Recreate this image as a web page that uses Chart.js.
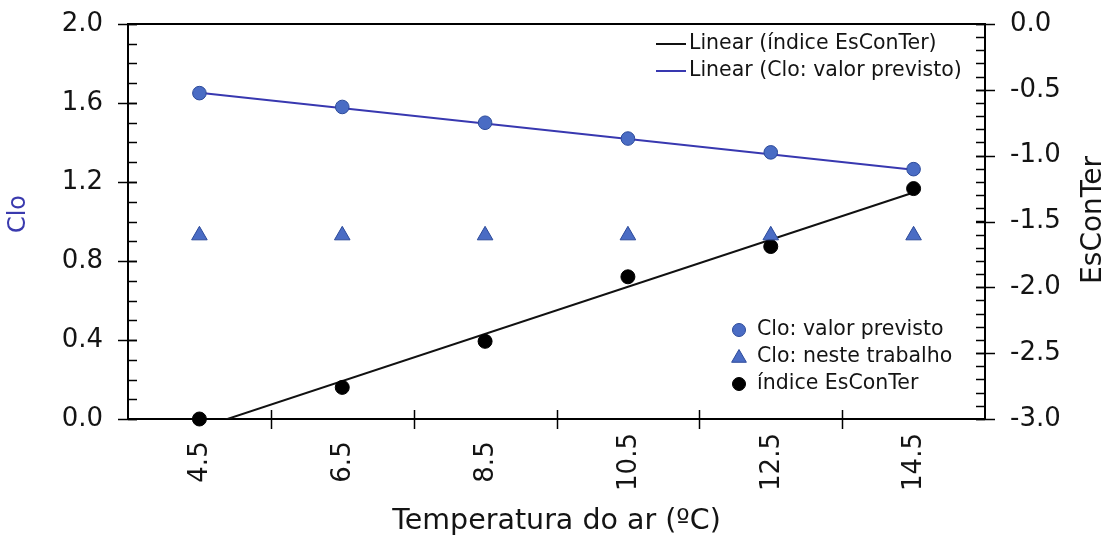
<!DOCTYPE html>
<html><head><meta charset="utf-8">
<script src="https://cdn.jsdelivr.net/npm/chart.js@4.4.1/dist/chart.umd.min.js"></script>
<style>html,body{margin:0;padding:0;background:#fff}#wrap{width:1119px;height:540px;position:relative}</style>
</head><body><div id="wrap"><canvas id="c" width="1119" height="540"></canvas></div>
<script>
// ---- data ----
const categories = ['4.5', '6.5', '8.5', '10.5', '12.5', '14.5'];
const cloPrevisto = [1.65, 1.58, 1.50, 1.42, 1.35, 1.265];
const cloNesteTrabalho = [0.93, 0.93, 0.93, 0.93, 0.93, 0.93];
const esConTer = [-3.0, -2.76, -2.41, -1.92, -1.69, -1.25];
const trendEsConTer = [-3.07, null, null, null, null, -1.28];
const trendClo = [1.652, null, null, null, null, 1.262];
const leftTickValues = [0.0, 0.4, 0.8, 1.2, 1.6, 2.0];
const rightTickValues = [-3.0, -2.5, -2.0, -1.5, -1.0, -0.5, 0.0];
const lineLegendLabels = ['Linear (índice EsConTer)', 'Linear (Clo: valor previsto)'];
const markerLegendLabels = ['Clo: valor previsto', 'Clo: neste trabalho', 'índice EsConTer'];
const xTitle = 'Temperatura do ar (ºC)';
const leftTitle = 'Clo';
const rightTitle = 'EsConTer';

const FONT = '"DejaVu Sans", Verdana, sans-serif';
const TXT = '#141414';
const BLUE_FILL = '#4a6cc4', BLUE_EDGE = '#2c4a9a', BLUE_LINE = '#3838b0', BLUE_TITLE = '#3a3aae';

Chart.defaults.font.family = FONT;
Chart.defaults.color = TXT;

function mark(ctx, style, r, x, y, fill, edge) {
  ctx.save();
  ctx.fillStyle = fill; ctx.strokeStyle = edge; ctx.lineWidth = 1;
  ctx.beginPath();
  if (style === 'triangle') {
    ctx.moveTo(x, y - r);
    ctx.lineTo(x + r * Math.sin(2 * Math.PI / 3), y - r * Math.cos(2 * Math.PI / 3));
    ctx.lineTo(x + r * Math.sin(4 * Math.PI / 3), y - r * Math.cos(4 * Math.PI / 3));
    ctx.closePath();
  } else {
    ctx.arc(x, y, r, 0, Math.PI * 2);
  }
  ctx.fill(); ctx.stroke();
  ctx.restore();
}

function vtext(ctx, text, x, y, font, color) {
  ctx.save();
  ctx.translate(x, y);
  ctx.rotate(-Math.PI / 2);
  ctx.font = font;
  ctx.fillStyle = color;
  ctx.textAlign = 'center'; ctx.textBaseline = 'middle';
  ctx.fillText(text, 0, 0);
  ctx.restore();
}

const framePlugin = {
  id: 'framePlugin',
  afterDraw(chart) {
    const { ctx, chartArea: a, scales } = chart;
    ctx.save();
    ctx.strokeStyle = '#000';
    ctx.lineWidth = 2;
    const ln = (x1, y1, x2, y2) => { ctx.beginPath(); ctx.moveTo(x1, y1); ctx.lineTo(x2, y2); ctx.stroke(); };
    // top frame line
    ln(a.left - 1, a.top, a.right + 1, a.top);
    ctx.lineWidth = 1.5;
    // left axis ticks
    const y = scales.y;
    for (let v = y.min; v <= y.max + 1e-9; v += 0.1) {
      const p = Math.round(y.getPixelForValue(v)) + 0.5;
      ln(a.left, p, a.left + 9, p);
    }
    y.ticks.forEach(t => { const p = Math.round(y.getPixelForValue(t.value)) + 0.5; ln(a.left - 10, p, a.left + 9, p); });
    // right axis ticks
    const y1 = scales.y1;
    for (let v = y1.min; v <= y1.max + 1e-9; v += 0.1) {
      const p = Math.round(y1.getPixelForValue(v)) + 0.5;
      ln(a.right - 9, p, a.right, p);
    }
    y1.ticks.forEach(t => { const p = Math.round(y1.getPixelForValue(t.value)) + 0.5; ln(a.right - 9, p, a.right + 10, p); });
    // x axis ticks between categories, and centred rotated labels
    const x = scales.x;
    for (let i = 0; i < categories.length - 1; i++) {
      const p = Math.round((x.getPixelForValue(i) + x.getPixelForValue(i + 1)) / 2) + 0.5;
      ln(p, a.bottom - 9, p, a.bottom + 10);
    }
    categories.forEach((c, i) => vtext(ctx, c, x.getPixelForValue(i) + 1, a.bottom + 43, '26px ' + FONT, TXT));
    // axis titles
    vtext(ctx, leftTitle, 19, 214, '24px ' + FONT, BLUE_TITLE);
    vtext(ctx, rightTitle, 1094, 220, '28px ' + FONT, TXT);

    // legend 1 (lines)
    ctx.font = '20.5px ' + FONT;
    ctx.textAlign = 'left'; ctx.textBaseline = 'middle';
    ctx.fillStyle = TXT;
    const lineColors = ['#111', BLUE_LINE];
    lineLegendLabels.forEach((lab, i) => {
      const yy = 44 + i * 27;
      ctx.strokeStyle = lineColors[i]; ctx.lineWidth = 2;
      ln(656, yy, 686, yy);
      ctx.fillText(lab, 689, yy);
    });
    // legend 2 (markers)
    const styles = [['circle', 6.5, BLUE_FILL, BLUE_EDGE], ['triangle', 8.5, BLUE_FILL, BLUE_EDGE], ['circle', 6.5, '#000', '#000']];
    markerLegendLabels.forEach((lab, i) => {
      const yy = 330 + i * 27;
      const s = styles[i];
      mark(ctx, s[0], s[1], 739, yy + (s[0] === 'triangle' ? 1 : 0), s[2], s[3]);
      ctx.fillStyle = TXT;
      ctx.fillText(lab, 757, yy);
    });
    ctx.restore();
  }
};

const fitY = w => s => { s.width = w; s.paddingTop = 0; s.paddingBottom = 0; };

new Chart(document.getElementById('c'), {
  type: 'line',
  data: {
    labels: categories,
    datasets: [
      { label: 'Clo: valor previsto', data: cloPrevisto, yAxisID: 'y', showLine: false, pointStyle: 'circle', pointRadius: 6.8, pointBackgroundColor: BLUE_FILL, pointBorderColor: BLUE_EDGE, pointBorderWidth: 1, clip: false, order: 0 },
      { label: 'Clo: neste trabalho', data: cloNesteTrabalho, yAxisID: 'y', showLine: false, pointStyle: 'triangle', pointRadius: 9, pointBackgroundColor: BLUE_FILL, pointBorderColor: BLUE_EDGE, pointBorderWidth: 1, clip: false, order: 0 },
      { label: 'índice EsConTer', data: esConTer, yAxisID: 'y1', showLine: false, pointStyle: 'circle', pointRadius: 7, pointBackgroundColor: '#000', pointBorderColor: '#000', pointBorderWidth: 1, clip: false, order: 0 },
      { label: 'Linear (índice EsConTer)', data: trendEsConTer, yAxisID: 'y1', spanGaps: true, borderColor: '#111', borderWidth: 2, pointRadius: 0, fill: false, order: 1 },
      { label: 'Linear (Clo: valor previsto)', data: trendClo, yAxisID: 'y', spanGaps: true, borderColor: BLUE_LINE, borderWidth: 2, pointRadius: 0, fill: false, order: 1 }
    ]
  },
  options: {
    responsive: false,
    animation: false,
    devicePixelRatio: 1,
    layout: { padding: { top: 24, left: 0, right: 0, bottom: 0 } },
    plugins: { legend: { display: false }, tooltip: { enabled: false } },
    scales: {
      x: {
        type: 'category',
        offset: true,
        grid: { display: false },
        border: { display: true, color: '#000', width: 2 },
        ticks: { display: false },
        title: { display: true, text: xTitle, font: { size: 28.5 }, padding: { top: 0, bottom: 1 }, color: TXT },
        afterFit: s => { s.height = 121; s.paddingLeft = 0; s.paddingRight = 0; }
      },
      y: {
        position: 'left',
        min: 0, max: 2,
        afterBuildTicks: s => { s.ticks = leftTickValues.map(v => ({ value: v })); },
        ticks: { font: { size: 26 }, padding: 17, color: TXT, callback: v => Number(v).toFixed(1) },
        grid: { display: false },
        border: { display: true, color: '#000', width: 2 },
        title: { display: false },
        afterFit: fitY(128)
      },
      y1: {
        position: 'right',
        min: -3, max: 0,
        afterBuildTicks: s => { s.ticks = rightTickValues.map(v => ({ value: v })); },
        ticks: { font: { size: 26 }, padding: 17, color: TXT, callback: v => Number(v).toFixed(1) },
        grid: { display: false },
        border: { display: true, color: '#000', width: 2 },
        title: { display: false },
        afterFit: fitY(134)
      }
    }
  },
  plugins: [framePlugin]
});
</script>
</body></html>
